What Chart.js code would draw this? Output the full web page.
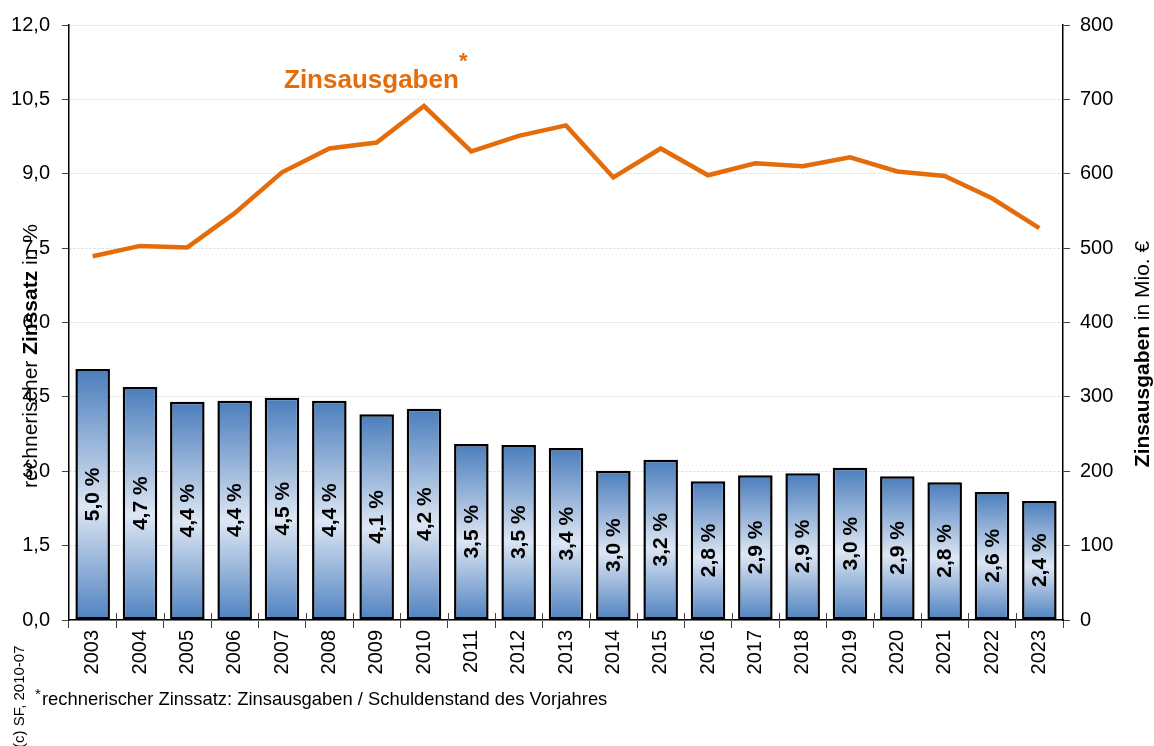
<!DOCTYPE html>
<html>
<head>
<meta charset="utf-8">
<script src="https://cdn.jsdelivr.net/npm/chart.js@4"></script>
<style>
    body { margin: 0; background: #fff; }
    #wrap { width: 1154px; height: 746px; }
</style>
</head>
<body>
<div id="wrap"><canvas id="zinsChart" width="1154" height="746"></canvas></div>
<script>
// ========================================
// Zinssatz / Zinsausgaben 2003-2023
// ========================================

const years = ['2003', '2004', '2005', '2006', '2007', '2008', '2009', '2010', '2011', '2012', '2013',
    '2014', '2015', '2016', '2017', '2018', '2019', '2020', '2021', '2022', '2023'];

// rechnerischer Zinssatz in % (bar heights)
const rates = [5.06, 4.70, 4.40, 4.42, 4.48, 4.42, 4.15, 4.26, 3.55, 3.53, 3.47,
    3.01, 3.23, 2.80, 2.92, 2.96, 3.07, 2.90, 2.78, 2.58, 2.40];

// printed labels inside the bars
const rateLabels = ['5,0 %', '4,7 %', '4,4 %', '4,4 %', '4,5 %', '4,4 %', '4,1 %', '4,2 %', '3,5 %', '3,5 %', '3,4 %',
    '3,0 %', '3,2 %', '2,8 %', '2,9 %', '2,9 %', '3,0 %', '2,9 %', '2,8 %', '2,6 %', '2,4 %'];

// Zinsausgaben in Mio. € (right axis)
const spending = [489, 503, 501, 547, 602, 634, 642, 691, 630, 651, 665,
    595, 634, 598, 614, 610, 622, 603, 597, 567, 527];

const FONT = "'Liberation Sans', Arial, sans-serif";
const ORANGE = '#E46C0A';

function fmtComma(v, digits) {
    return v.toFixed(digits).replace('.', ',');
}

// vertical gradient per bar: blue - light - blue
function barGradient(ctx) {
    const chart = ctx.chart;
    const { chartArea, scales } = chart;
    if (!chartArea || ctx.type !== 'data') return '#4F81BD';
    const top = scales.y.getPixelForValue(ctx.raw);
    const bottom = scales.y.getPixelForValue(0);
    const g = chart.ctx.createLinearGradient(0, top, 0, bottom);
    g.addColorStop(0, '#4A7DBC');
    g.addColorStop(0.55, '#DDE6F3');
    g.addColorStop(1, '#4F82C0');
    return g;
}

// draws rotated text made of parts with different weights, centred on (x, y)
function drawRotatedParts(ctx, parts, x, y, size) {
    ctx.save();
    ctx.translate(x, y);
    ctx.rotate(-Math.PI / 2);
    let total = 0;
    parts.forEach(p => {
        ctx.font = `${p.bold ? 'bold ' : ''}${size}px ${FONT}`;
        p.w = ctx.measureText(p.text).width;
        total += p.w;
    });
    let cx = -total / 2;
    ctx.textBaseline = 'middle';
    ctx.textAlign = 'left';
    ctx.fillStyle = '#000';
    parts.forEach(p => {
        ctx.font = `${p.bold ? 'bold ' : ''}${size}px ${FONT}`;
        ctx.fillText(p.text, cx, 0);
        cx += p.w;
    });
    ctx.restore();
}

const labelsPlugin = {
    id: 'labelsPlugin',
    afterDatasetsDraw(chart) {
        const ctx = chart.ctx;
        const meta = chart.getDatasetMeta(1); // bar dataset
        ctx.save();
        ctx.font = `bold 21px ${FONT}`;
        ctx.fillStyle = '#000';
        ctx.textAlign = 'center';
        ctx.textBaseline = 'middle';
        meta.data.forEach((bar, i) => {
            const cy = (bar.y + bar.base) / 2;
            ctx.save();
            ctx.translate(bar.x + 1, cy);
            ctx.rotate(-Math.PI / 2);
            ctx.fillText(rateLabels[i], 0, 0);
            ctx.restore();
        });
        ctx.restore();
    },
    afterDraw(chart) {
        const ctx = chart.ctx;
        const xScale = chart.scales.x;

        // category tick marks also reach a bit above the axis
        ctx.save();
        ctx.strokeStyle = '#444';
        ctx.lineWidth = 1;
        const step = xScale.width / years.length;
        for (let i = 1; i < years.length; i++) {
            const px = Math.round(xScale.left + step * i) + 0.5;
            ctx.beginPath();
            ctx.moveTo(px, xScale.top - 7);
            ctx.lineTo(px, xScale.top);
            ctx.stroke();
        }
        ctx.restore();

        // axis titles (mixed bold / regular)
        drawRotatedParts(ctx, [
            { text: 'rechnerischer ' },
            { text: 'Zinssatz', bold: true },
            { text: ' in %' }
        ], 31, 356, 21);
        drawRotatedParts(ctx, [
            { text: 'Zinsausgaben', bold: true },
            { text: ' in Mio. €' }
        ], 1143, 354, 21);

        // series title
        ctx.save();
        ctx.fillStyle = ORANGE;
        ctx.font = `bold 26px ${FONT}`;
        ctx.textAlign = 'left';
        ctx.textBaseline = 'alphabetic';
        ctx.fillText('Zinsausgaben', 284, 88);
        ctx.font = `bold 22px ${FONT}`;
        ctx.fillText('*', 459, 68);
        ctx.restore();

        // copyright
        ctx.save();
        ctx.translate(24, 748);
        ctx.rotate(-Math.PI / 2);
        ctx.font = `15px ${FONT}`;
        ctx.fillStyle = '#000';
        ctx.textAlign = 'left';
        ctx.textBaseline = 'alphabetic';
        ctx.fillText('(c) SF, 2010-07', 0, 0);
        ctx.restore();

        // footnote
        ctx.save();
        ctx.fillStyle = '#000';
        ctx.textBaseline = 'alphabetic';
        ctx.font = `15px ${FONT}`;
        ctx.fillText('*', 35, 699);
        ctx.font = `18.4px ${FONT}`;
        ctx.fillText('rechnerischer Zinssatz: Zinsausgaben / Schuldenstand des Vorjahres', 42, 705);
        ctx.restore();
    }
};

document.addEventListener('DOMContentLoaded', () => {
    initChart();
});

function initChart() {
    const canvas = document.getElementById('zinsChart');

    new Chart(canvas, {
        type: 'bar',
        data: {
            labels: years,
            datasets: [
                {
                    type: 'line',
                    label: 'Zinsausgaben',
                    data: spending,
                    yAxisID: 'y1',
                    borderColor: ORANGE,
                    borderWidth: 4.5,
                    pointRadius: 0,
                    tension: 0,
                    fill: false,
                    order: 0
                },
                {
                    type: 'bar',
                    label: 'Zinssatz',
                    data: rates,
                    yAxisID: 'y',
                    backgroundColor: barGradient,
                    borderColor: '#000',
                    borderWidth: 2.5,
                    borderSkipped: false,
                    barPercentage: 0.73,
                    categoryPercentage: 1,
                    order: 1
                }
            ]
        },
        options: {
            responsive: false,
            animation: false,
            devicePixelRatio: 1,
            layout: { padding: { top: 25, left: 0, right: 0, bottom: 0 } },
            plugins: {
                legend: { display: false },
                tooltip: { enabled: false }
            },
            scales: {
                x: {
                    offset: true,
                    grid: {
                        offset: true,
                        drawOnChartArea: false,
                        tickLength: 8,
                        tickColor: '#444'
                    },
                    border: { color: '#000', width: 1.5 },
                    ticks: {
                        minRotation: 90,
                        maxRotation: 90,
                        padding: 2,
                        color: '#000',
                        font: { family: FONT, size: 20 }
                    },
                    afterFit(scale) { scale.height = 126; }
                },
                y: {
                    position: 'left',
                    min: 0,
                    max: 12,
                    ticks: {
                        stepSize: 1.5,
                        padding: 12,
                        color: '#000',
                        font: { family: FONT, size: 20 },
                        callback: v => fmtComma(v, 1)
                    },
                    grid: {
                        color: '#d9d9d9',
                        tickColor: '#444',
                        tickLength: 7,
                        lineWidth: 1
                    },
                    border: { color: '#000', width: 1.5, dash: [2, 2] },
                    afterFit(scale) { scale.width = 69; }
                },
                y1: {
                    position: 'right',
                    min: 0,
                    max: 800,
                    ticks: {
                        stepSize: 100,
                        padding: 10,
                        color: '#000',
                        font: { family: FONT, size: 20 }
                    },
                    grid: {
                        drawOnChartArea: false,
                        tickColor: '#444',
                        tickLength: 7
                    },
                    border: { color: '#000', width: 1.5 },
                    afterFit(scale) { scale.width = 91; }
                }
            }
        },
        plugins: [labelsPlugin]
    });
}
</script>
</body>
</html>
